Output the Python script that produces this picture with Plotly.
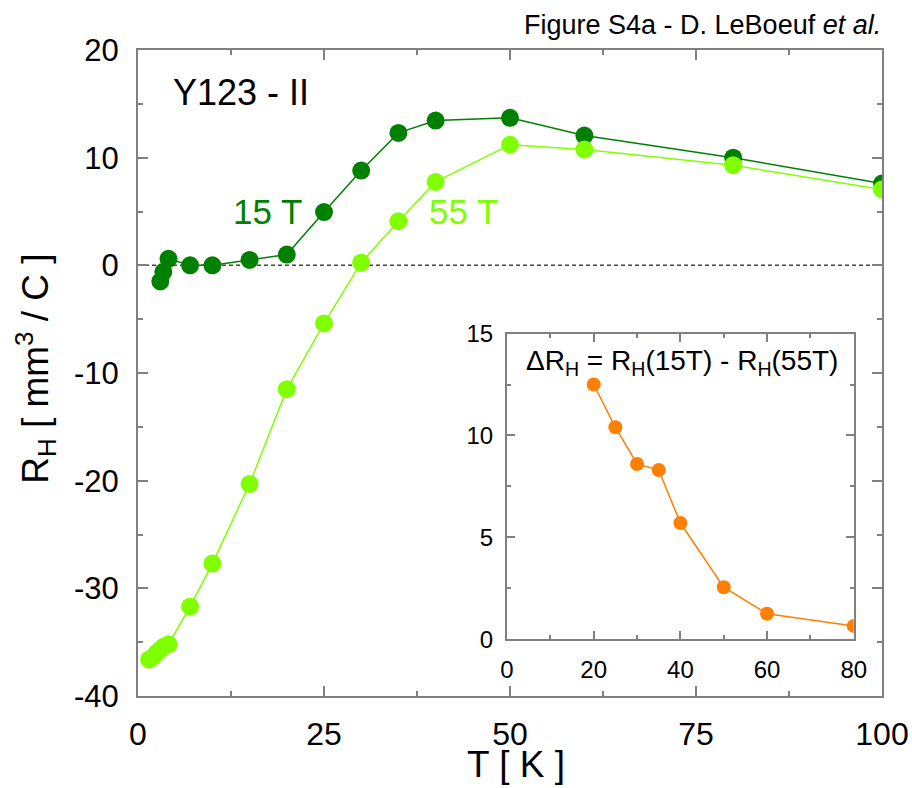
import plotly.graph_objects as go

# ---- data ----
T_15 = [3.0, 3.4, 4.1, 7, 10, 15, 20, 25, 30, 35, 40, 50, 60, 80, 100]
RH_15 = [-1.5, -0.6, 0.6, 0.0, 0.0, 0.5, 1.0, 4.95, 8.8, 12.3, 13.45, 13.7, 12.05, 10.0, 7.6]

T_55 = [1.5, 2.0, 2.5, 3.0, 3.5, 4.1, 7, 10, 15, 20, 25, 30, 35, 40, 50, 60, 80, 100]
RH_55 = [-36.6, -36.4, -36.0, -35.7, -35.4, -35.2, -31.7, -27.7, -20.3, -11.5, -5.4, 0.25,
         4.1, 7.75, 11.2, 10.75, 9.3, 7.05]

T_inset = [20, 25, 30, 35, 40, 50, 60, 80]
dRH_inset = [12.5, 10.4, 8.6, 8.3, 5.7, 2.55, 1.25, 0.65]

x_ticks = [0, 25, 50, 75, 100]
y_ticks = [-40, -30, -20, -10, 0, 10, 20]
y_ticklabels = ["-40", "-30", "-20", "-10", "0", "10", "20"]
x2_ticks = [0, 20, 40, 60, 80]
y2_ticks = [0, 5, 10, 15]

DARK = "#008000"
LIGHT = "#80FF00"
ORANGE = "#FF8000"
AX = "#808080"
FONT = "Liberation Sans, Arial, sans-serif"

fig = go.Figure()

fig.add_trace(go.Scatter(x=T_15, y=RH_15, mode="lines+markers",
                         line=dict(color=DARK, width=1.5),
                         marker=dict(color=DARK, size=18), showlegend=False))
fig.add_trace(go.Scatter(x=T_55, y=RH_55, mode="lines+markers",
                         line=dict(color=LIGHT, width=1.5),
                         marker=dict(color=LIGHT, size=18), showlegend=False))
fig.add_trace(go.Scatter(x=T_inset, y=dRH_inset, mode="lines+markers",
                         xaxis="x2", yaxis="y2",
                         line=dict(color=ORANGE, width=1.5),
                         marker=dict(color=ORANGE, size=14), showlegend=False))

fig.add_hline(y=0, line=dict(color="#444444", width=1.5, dash="4px,3px"), layer="below")

common = dict(showline=True, linecolor=AX, linewidth=2, mirror="ticks",
              ticks="inside", tickcolor=AX, tickwidth=1.5, showgrid=False,
              zeroline=False, automargin=False)

fig.update_layout(
    width=912, height=788,
    margin=dict(l=138, r=30, t=50, b=92),
    paper_bgcolor="white", plot_bgcolor="white",
    font=dict(family=FONT, color="black"),
    xaxis=dict(range=[0, 100], tickvals=x_ticks, ticklen=10,
               minor=dict(dtick=12.5, ticklen=5, ticks="inside", tickcolor=AX),
               tickfont=dict(size=32), ticklabelstandoff=9, **common),
    yaxis=dict(range=[-40, 20], tickvals=y_ticks, ticktext=y_ticklabels, ticklen=10,
               minor=dict(dtick=5, ticklen=5, ticks="inside", tickcolor=AX),
               tickfont=dict(size=31), ticklabelstandoff=11, **common),
    xaxis2=dict(domain=[0.496, 0.962], anchor="y2", range=[0, 80], tickvals=x2_ticks,
                ticklen=8, minor=dict(dtick=10, ticklen=4, ticks="inside", tickcolor=AX),
                tickfont=dict(size=24), ticklabelstandoff=8, **common),
    yaxis2=dict(domain=[0.088, 0.561], anchor="x2", range=[0, 15], tickvals=y2_ticks,
                ticklen=8, minor=dict(dtick=2.5, ticklen=4, ticks="inside", tickcolor=AX),
                tickfont=dict(size=24), ticklabelstandoff=7, **common),
)

ann = [
    dict(text="Figure S4a - D. LeBoeuf <i>et al.</i>", x=1.001, y=1.038, xanchor="right",
         yanchor="middle", font=dict(size=27)),
    dict(text="Y123 - II", x=0.045, y=0.934, xanchor="left", yanchor="middle",
         font=dict(size=36)),
    dict(text="15 T", x=0.125, y=0.750, xanchor="left", yanchor="middle",
         font=dict(size=35, color=DARK)),
    dict(text="55 T", x=0.388, y=0.750, xanchor="left", yanchor="middle",
         font=dict(size=35, color=LIGHT)),
    dict(text="T [ K ]", x=0.508, y=-0.1415, xanchor="center", yanchor="bottom",
         font=dict(size=37)),
    dict(text="R<sub>H</sub> [ mm<sup>3</sup> / C ]", x=-0.138, y=0.507, textangle=-90,
         xanchor="center", yanchor="middle", font=dict(size=37)),
    dict(text="\u0394R<sub>H</sub> = R<sub>H</sub>(15T) - R<sub>H</sub>(55T)",
         x=0.731, y=0.516, xanchor="center", yanchor="middle", font=dict(size=28)),
]
for a in ann:
    a.update(xref="paper", yref="paper", showarrow=False)
    fig.add_annotation(**a)

fig.write_html("out.html", config={"displayModeBar": False},
               post_script="document.body.style.margin='0px';")
